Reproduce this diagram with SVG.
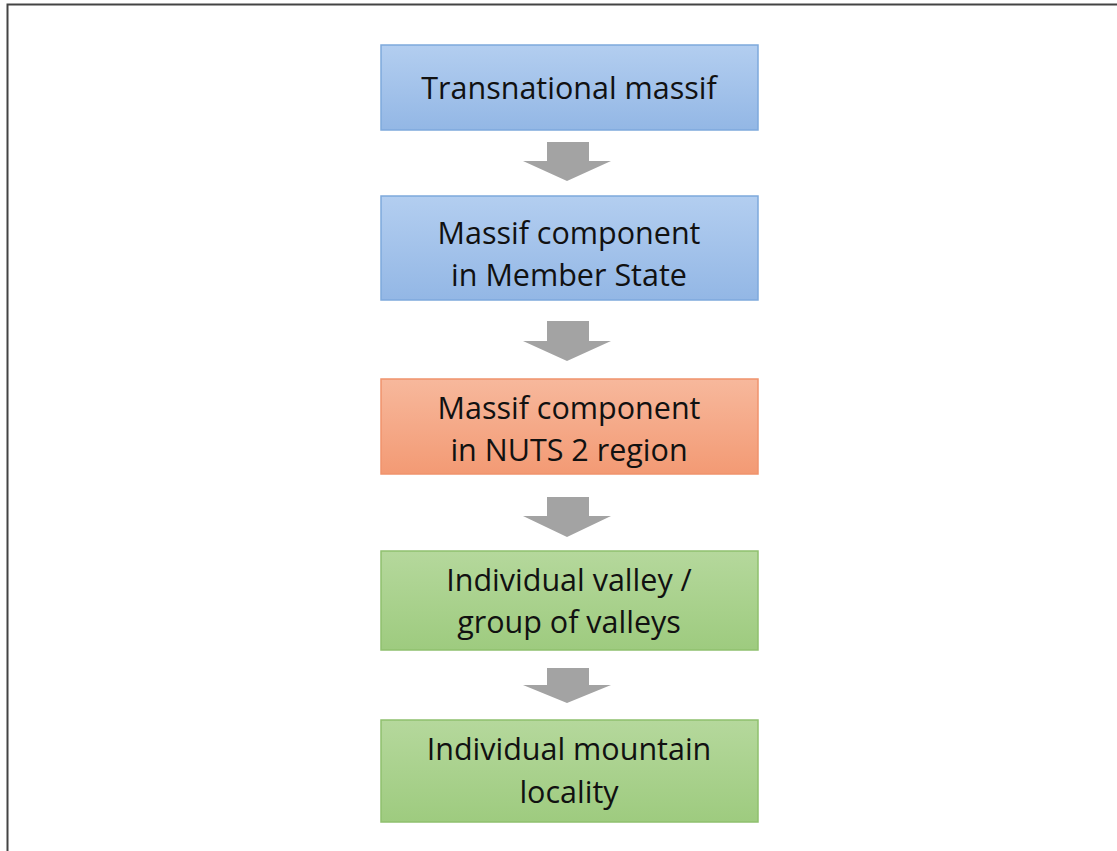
<svg xmlns="http://www.w3.org/2000/svg" width="1117" height="851" viewBox="0 0 1117 851">
<defs>
<linearGradient id="gBlue" x1="0" y1="0" x2="0" y2="1"><stop offset="0" stop-color="#b3cef0"/><stop offset="1" stop-color="#93b7e5"/></linearGradient>
<linearGradient id="gOrange" x1="0" y1="0" x2="0" y2="1"><stop offset="0" stop-color="#f7b89c"/><stop offset="1" stop-color="#f39a74"/></linearGradient>
<linearGradient id="gGreen" x1="0" y1="0" x2="0" y2="1"><stop offset="0" stop-color="#b5d89c"/><stop offset="1" stop-color="#9ecb7f"/></linearGradient>
</defs>
<style>
.blue{fill:url(#gBlue);stroke:#7ea9dc;stroke-width:1.5}
.orange{fill:url(#gOrange);stroke:#f0936c;stroke-width:1.5}
.green{fill:url(#gGreen);stroke:#8fc06e;stroke-width:1.5}
.t{font-family:"Open Sans","Noto Sans",sans-serif;font-size:30.5px;fill:#111;text-anchor:middle}
.arr{fill:#a3a3a3}
</style>
<rect width="1117" height="851" fill="#fff"/>
<path d="M7.5,851 V4.5 H1117" fill="none" stroke="#444" stroke-width="2"/>
<g id="n1"><rect class="blue" x="381" y="45" width="377" height="85"/><text class="t" x="569" y="99">Transnational massif</text></g>
<g id="n2"><rect class="blue" x="381" y="196" width="377" height="104"/><text class="t" x="569" y="244">Massif component</text><text class="t" x="569" y="286">in Member State</text></g>
<g id="n3"><rect class="orange" x="381" y="379" width="377" height="95"/><text class="t" x="569" y="419">Massif component</text><text class="t" x="569" y="461">in NUTS 2 region</text></g>
<g id="n4"><rect class="green" x="381" y="551" width="377" height="99"/><text class="t" x="569" y="591">Individual valley /</text><text class="t" x="569" y="633">group of valleys</text></g>
<g id="n5"><rect class="green" x="381" y="720" width="377" height="102"/><text class="t" x="569" y="760">Individual mountain</text><text class="t" x="569" y="803">locality</text></g>
<g id="connectors">
<path class="arr" d="M547,142 H589 V161 H611 L567,181 L523,161 H547 Z"/>
<path class="arr" d="M547,321 H589 V341 H611 L567,361 L523,341 H547 Z"/>
<path class="arr" d="M547,497 H589 V516 H611 L567,537 L523,516 H547 Z"/>
<path class="arr" d="M547,668 H589 V685 H611 L567,703 L523,685 H547 Z"/>
</g>
</svg>
